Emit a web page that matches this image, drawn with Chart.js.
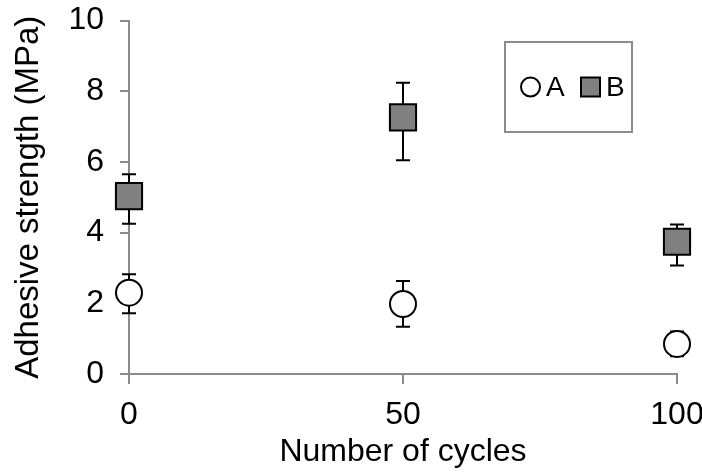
<!DOCTYPE html>
<html><head><meta charset="utf-8">
<script src="https://cdn.jsdelivr.net/npm/chart.js@4/dist/chart.umd.min.js"></script>
<style>html,body{margin:0;padding:0;background:#fff}#wrap{width:702px;height:473px;position:relative}</style>
</head><body><div id="wrap"><canvas id="c"></canvas></div>
<script>
// ---- data ----
const cycles = [0, 50, 100];
const seriesA = [2.30, 1.98, 0.85];
const seriesB = [5.03, 7.26, 3.74];
const errAUp = [0.52, 0.65, 0.35];
const errADown = [0.58, 0.64, 0.35];
const errBUp = [0.62, 0.98, 0.49];
const errBDown = [0.78, 1.21, 0.67];
const yTicks = [0, 2, 4, 6, 8, 10];
const xTicks = [0, 50, 100];
const labels = ['A', 'B'];

const FONT = "'Liberation Sans', Arial, sans-serif";
const AXIS = '#8c8c8c';

const errorBars = {
  id: 'errorBars',
  beforeDatasetsDraw(chart) {
    const ctx = chart.ctx, xs = chart.scales.x, ys = chart.scales.y;
    const sets = [[seriesA, errAUp, errADown], [seriesB, errBUp, errBDown]];
    ctx.save();
    ctx.strokeStyle = '#000';
    ctx.lineWidth = 2;
    sets.forEach(([vals, up, dn]) => {
      vals.forEach((v, i) => {
        const x = xs.getPixelForValue(cycles[i]);
        const y1 = ys.getPixelForValue(v + up[i]);
        const y2 = ys.getPixelForValue(v - dn[i]);
        ctx.beginPath();
        ctx.moveTo(x, y1); ctx.lineTo(x, y2);
        ctx.moveTo(x - 7, y1); ctx.lineTo(x + 7, y1);
        ctx.moveTo(x - 7, y2); ctx.lineTo(x + 7, y2);
        ctx.stroke();
      });
    });
    ctx.restore();
  }
};

const insideLegend = {
  id: 'insideLegend',
  afterDraw(chart) {
    const ctx = chart.ctx;
    ctx.save();
    ctx.strokeStyle = AXIS;
    ctx.lineWidth = 2;
    ctx.strokeRect(505, 42, 127, 90);
    const cy = 87;
    ctx.beginPath();
    ctx.arc(530.5, cy, 9.5, 0, Math.PI * 2);
    ctx.fillStyle = '#fff'; ctx.fill();
    ctx.strokeStyle = '#000'; ctx.lineWidth = 2; ctx.stroke();
    ctx.font = '28px ' + FONT;
    ctx.fillStyle = '#000';
    ctx.textBaseline = 'middle';
    ctx.fillText(labels[0], 546, cy + 1);
    ctx.fillStyle = '#808080';
    ctx.fillRect(581, cy - 9.5, 19, 19);
    ctx.strokeRect(581, cy - 9.5, 19, 19);
    ctx.fillStyle = '#000';
    ctx.fillText(labels[1], 606, cy + 1);
    ctx.restore();
  }
};

new Chart(document.getElementById('c'), {
  type: 'scatter',
  data: {
    datasets: [
      { label: labels[0], data: cycles.map((c, i) => ({x: c, y: seriesA[i]})), clip: false,
        pointStyle: 'circle', pointRadius: 13, pointHoverRadius: 13,
        backgroundColor: '#fff', borderColor: '#000', borderWidth: 2 },
      { label: labels[1], data: cycles.map((c, i) => ({x: c, y: seriesB[i]})), clip: false,
        pointStyle: 'rect', pointRadius: 18.5, pointHoverRadius: 18.5,
        backgroundColor: '#808080', borderColor: '#000', borderWidth: 2 }
    ]
  },
  options: {
    responsive: true, maintainAspectRatio: false, animation: false,
    layout: { padding: { top: 20, right: 25, left: 0, bottom: 0 } },
    plugins: { legend: { display: false }, tooltip: { enabled: false } },
    scales: {
      x: {
        type: 'linear', min: 0, max: 100,
        afterBuildTicks(s) { s.ticks = xTicks.map(v => ({value: v})); },
        afterFit(s) { s.height = 99; s.paddingLeft = 0; s.paddingRight = 0; },
        grid: { drawOnChartArea: false, drawTicks: true, tickLength: 10, tickColor: AXIS, lineWidth: 2 },
        border: { display: true, color: AXIS, width: 2 },
        ticks: { color: '#000', font: { family: FONT, size: 32 }, padding: 12, maxRotation: 0 },
        title: { display: true, text: 'Number of cycles', color: '#000', font: { family: FONT, size: 32 }, padding: { top: 0, bottom: 2 } }
      },
      y: {
        type: 'linear', min: 0, max: 10,
        afterBuildTicks(s) { s.ticks = yTicks.map(v => ({value: v})); },
        afterFit(s) { s.width = 129; s.paddingTop = 0; s.paddingBottom = 0; },
        grid: { drawOnChartArea: false, drawTicks: true, tickLength: 9, tickColor: AXIS, lineWidth: 2 },
        border: { display: true, color: AXIS, width: 2 },
        ticks: { color: '#000', font: { family: FONT, size: 32 }, padding: 16 },
        title: { display: true, text: 'Adhesive strength (MPa)', color: '#000', font: { family: FONT, size: 33 }, padding: { top: 9, bottom: 6 } }
      }
    }
  },
  plugins: [errorBars, insideLegend]
});
</script>
</body></html>
